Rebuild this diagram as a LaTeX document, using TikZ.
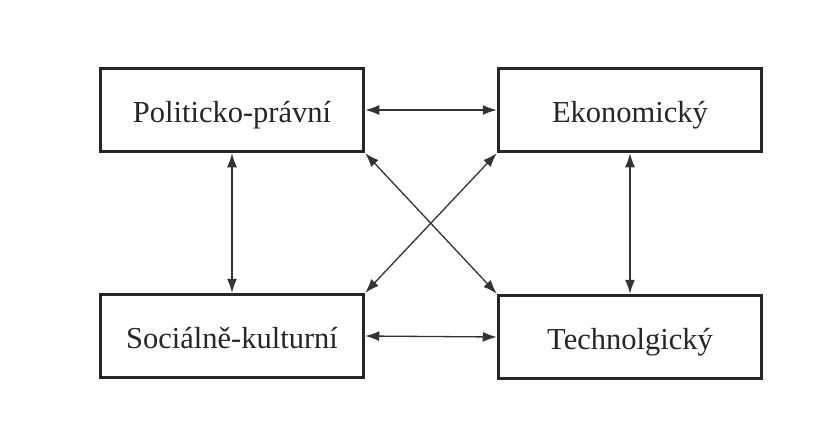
\documentclass[tikz,border=0pt]{standalone}
\usepackage{fontspec}
\setmainfont{Liberation Serif}
\usetikzlibrary{arrows.meta}
\begin{document}
\begin{tikzpicture}[x=1pt,y=-1pt,
  box/.style={draw=black!85, line width=3.5pt, minimum width=263pt, minimum height=83pt, inner sep=0pt, text height=25pt, text depth=1pt, font=\fontsize{30.5}{36}\selectfont, text=black!85},
  conn/.style={draw=black!80, line width=1.3pt, {Latex[length=14pt,width=10pt]}-{Latex[length=14pt,width=10pt]}}]
\useasboundingbox (0,0) rectangle (836,421);
\fill[white] (0,0) rectangle (836,421);
\node[box] (pp) at (232,110) {Politicko-právní};
\node[box] (ek) at (630,110) {Ekonomický};
\node[box] (sk) at (232,336) {Sociálně-kulturní};
\node[box] (te) at (630,337) {Technolgický};
\draw[conn] (pp.east) -- (ek.west);
\draw[conn] (sk.east) -- (te.west);
\draw[conn] (pp.south) -- (sk.north);
\draw[conn] (ek.south) -- (te.north);
\draw[conn] (pp.south east) -- (te.north west);
\draw[conn] (ek.south west) -- (sk.north east);
\end{tikzpicture}
\end{document}
